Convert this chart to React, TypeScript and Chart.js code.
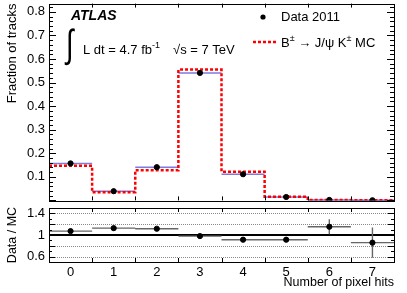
import React, { useEffect, useRef } from "react";
import { Chart, registerables } from "chart.js";
Chart.register(...registerables);

const FONT = "'Liberation Sans', Arial, Helvetica, sans-serif";

// Number of pixel hits (bin centres)
const categories = [0, 1, 2, 3, 4, 5, 6, 7];
// Fraction of tracks, data 2011
const dataFraction = [0.157, 0.039, 0.141, 0.541, 0.111, 0.0145, 0.002, 0.0007];
// Fraction of tracks, B± → J/ψ K± MC
const mcFraction = [0.147, 0.035, 0.128, 0.555, 0.122, 0.016, 0.0017, 0.0008];
// Data / MC ratio and its uncertainty
const ratioValues = [1.072, 1.127, 1.116, 0.98, 0.913, 0.913, 1.153, 0.858];
const ratioErrors = [0.01, 0.012, 0.01, 0.004, 0.01, 0.03, 0.14, 0.28];
// Tick labels
const mainYTicks = [0.1, 0.2, 0.3, 0.4, 0.5, 0.6, 0.7, 0.8];
const ratioYTicks = [0.6, 0.8, 1, 1.2, 1.4];
const ratioGridLines = [0.6, 0.8, 1.2, 1.4];

const W = 407;
const MAIN_H = 204;
const RATIO_TOP = 204;
const RATIO_H = 89;

function px(v: number) {
  return Math.round(v) + 0.5;
}

function noPad(s: any) {
  s.paddingTop = 0;
  s.paddingBottom = 0;
  s.paddingLeft = 0;
  s.paddingRight = 0;
}

function drawFrameAndTicks(
  chart: any,
  yFrom: number,
  yTo: number,
  majorStep: number,
  minorStep: number,
  majorLen: number,
  minorLen: number,
  xTickLen: number
) {
  const { ctx, chartArea } = chart;
  const x = chart.scales.x;
  const y = chart.scales.y;
  const { left, right, top, bottom } = chartArea;
  ctx.save();
  ctx.strokeStyle = "#000";
  ctx.lineWidth = 1;
  ctx.setLineDash([]);
  ctx.beginPath();
  const nMinor = Math.round((yTo - yFrom) / minorStep);
  for (let k = 0; k <= nMinor; k++) {
    const v = yFrom + k * minorStep;
    if (v < y.min - 1e-9 || v > y.max + 1e-9) continue;
    const isMajor = Math.abs(v / majorStep - Math.round(v / majorStep)) < 1e-6;
    const len = isMajor ? majorLen : minorLen;
    const yy = px(y.getPixelForValue(v));
    ctx.moveTo(left, yy);
    ctx.lineTo(left + len, yy);
    ctx.moveTo(right, yy);
    ctx.lineTo(right - len, yy);
  }
  for (let i = 0; i < categories.length - 1; i++) {
    const xx = px(x.getPixelForValue(categories[i] + 0.5));
    ctx.moveTo(xx, bottom);
    ctx.lineTo(xx, bottom - xTickLen);
    ctx.moveTo(xx, top);
    ctx.lineTo(xx, top + xTickLen);
  }
  ctx.stroke();
  ctx.strokeRect(px(left), px(top), Math.round(right - left), Math.round(bottom - top));
  ctx.restore();
}

const mainPlugin = {
  id: "mainDecor",
  beforeDatasetsDraw(chart: any) {
    const { ctx } = chart;
    const x = chart.scales.x;
    const y = chart.scales.y;
    ctx.save();
    ctx.strokeStyle = "#7b7be0";
    ctx.lineWidth = 1.5;
    ctx.beginPath();
    categories.forEach((c, i) => {
      const yy = y.getPixelForValue(dataFraction[i]);
      ctx.moveTo(x.getPixelForValue(c - 0.5), yy);
      ctx.lineTo(x.getPixelForValue(c + 0.5), yy);
    });
    ctx.stroke();
    ctx.restore();
  },
  afterDraw(chart: any) {
    drawFrameAndTicks(chart, 0, 0.84, 0.1, 0.02, 7, 4, 4);
    const { ctx } = chart;
    ctx.save();
    ctx.fillStyle = "#000";
    ctx.textAlign = "left";
    ctx.textBaseline = "alphabetic";
    ctx.font = `bold italic 14px ${FONT}`;
    ctx.fillText("ATLAS", 71, 19.5);
    // integral sign, tall and narrow
    ctx.save();
    ctx.translate(66, 57);
    ctx.scale(0.7, 1);
    ctx.font = `39px ${FONT}`;
    ctx.fillText("\u222B", 0, 0);
    ctx.restore();
    ctx.font = `13px ${FONT}`;
    const lumi = "L dt = 4.7 fb";
    ctx.fillText(lumi, 83, 54);
    const lw = ctx.measureText(lumi).width;
    ctx.font = `9px ${FONT}`;
    ctx.fillText("-1", 83 + lw, 48);
    ctx.font = `13px ${FONT}`;
    ctx.fillText("\u221As = 7 TeV", 173, 54);

    // legend
    ctx.beginPath();
    ctx.arc(263, 17, 2.6, 0, Math.PI * 2);
    ctx.fill();
    ctx.textBaseline = "middle";
    ctx.fillText("Data 2011", 281, 17.5);
    ctx.strokeStyle = "#ff0000";
    ctx.lineWidth = 2.5;
    ctx.setLineDash([3, 2]);
    ctx.beginPath();
    ctx.moveTo(253, 42);
    ctx.lineTo(276, 42);
    ctx.stroke();
    ctx.setLineDash([]);
    let cx = 281;
    const base = 43.5;
    const part = (t: string, size: number, dy: number) => {
      ctx.font = `${size}px ${FONT}`;
      ctx.fillText(t, cx, base + dy);
      cx += ctx.measureText(t).width;
    };
    part("B", 13, 0);
    part("\u00B1", 9, -5);
    part(" \u2192 J/\u03C8 K", 13, 0);
    part("\u00B1", 9, -5);
    part(" MC", 13, 0);
    ctx.restore();
  },
};

const ratioPlugin = {
  id: "ratioDecor",
  beforeDatasetsDraw(chart: any) {
    const { ctx, chartArea } = chart;
    const x = chart.scales.x;
    const y = chart.scales.y;
    ctx.save();
    ctx.beginPath();
    ctx.rect(chartArea.left, chartArea.top, chartArea.right - chartArea.left, chartArea.bottom - chartArea.top);
    ctx.clip();
    ctx.strokeStyle = "#888";
    ctx.lineWidth = 1;
    ctx.setLineDash([1, 1]);
    ctx.beginPath();
    ratioGridLines.forEach((v) => {
      const yy = px(y.getPixelForValue(v));
      ctx.moveTo(chartArea.left, yy);
      ctx.lineTo(chartArea.right, yy);
    });
    ctx.stroke();
    ctx.setLineDash([]);
    ctx.strokeStyle = "#000";
    ctx.lineWidth = 2;
    ctx.beginPath();
    const y1 = Math.round(y.getPixelForValue(1));
    ctx.moveTo(chartArea.left, y1);
    ctx.lineTo(chartArea.right, y1);
    ctx.stroke();
    ctx.strokeStyle = "#666";
    ctx.lineWidth = 1.4;
    ctx.beginPath();
    categories.forEach((c, i) => {
      const yy = y.getPixelForValue(ratioValues[i]);
      ctx.moveTo(x.getPixelForValue(c - 0.5), yy);
      ctx.lineTo(x.getPixelForValue(c + 0.5), yy);
      const xx = x.getPixelForValue(c);
      ctx.moveTo(xx, y.getPixelForValue(ratioValues[i] - ratioErrors[i]));
      ctx.lineTo(xx, y.getPixelForValue(ratioValues[i] + ratioErrors[i]));
    });
    ctx.stroke();
    ctx.restore();
  },
  afterDraw(chart: any) {
    drawFrameAndTicks(chart, 0.5, 1.5, 0.2, 0.1, 6, 3, 4);
  },
};

export default function App() {
  const mainRef = useRef<HTMLCanvasElement>(null);
  const ratioRef = useRef<HTMLCanvasElement>(null);

  useEffect(() => {
    const edges = categories.map((c) => c - 0.5).concat([categories[categories.length - 1] + 0.5]);
    const mcStep = edges.map((e, i) => ({ x: e, y: mcFraction[Math.min(i, mcFraction.length - 1)] }));

    const main = new Chart(mainRef.current!, {
      type: "scatter",
      data: {
        datasets: [
          {
            label: "Data 2011",
            data: categories.map((c, i) => ({ x: c, y: dataFraction[i] })),
            backgroundColor: "#000",
            borderColor: "#000",
            pointRadius: 2.6,
            pointHoverRadius: 2.6,
            showLine: false,
          },
          {
            type: "line",
            label: "MC",
            data: mcStep,
            borderColor: "#ff0000",
            borderWidth: 2.5,
            borderDash: [3, 2],
            stepped: true,
            pointRadius: 0,
            fill: false,
            showLine: true,
          } as any,
        ],
      },
      options: {
        animation: false,
        responsive: false,
        events: [],
        layout: { padding: { top: 1, right: 13, bottom: 1, left: 0 } },
        plugins: { legend: { display: false }, tooltip: { enabled: false } },
        scales: {
          x: { type: "linear", min: -0.5, max: 7.5, display: false, afterFit: noPad },
          y: {
            type: "linear",
            min: 0,
            max: 0.835,
            afterBuildTicks: (s: any) => {
              s.ticks = mainYTicks.map((v) => ({ value: v }));
            },
            afterFit: (s: any) => {
              s.width = 49;
              noPad(s);
            },
            grid: { display: false, drawTicks: false },
            border: { display: false },
            ticks: {
              color: "#000",
              padding: 4,
              font: { family: FONT, size: 13 },
              callback: (v: any) => Number(v).toFixed(1),
            },
            title: {
              display: true,
              text: "Fraction of tracks",
              align: "end",
              color: "#000",
              font: { family: FONT, size: 13 },
              padding: { top: 5, bottom: 4 },
            },
          },
        },
      },
      plugins: [mainPlugin],
    });

    const ratio = new Chart(ratioRef.current!, {
      type: "scatter",
      data: {
        datasets: [
          {
            label: "Data / MC",
            data: categories.map((c, i) => ({ x: c, y: ratioValues[i] })),
            backgroundColor: "#000",
            borderColor: "#000",
            pointRadius: 2.6,
            pointHoverRadius: 2.6,
            showLine: false,
          },
        ],
      },
      options: {
        animation: false,
        responsive: false,
        events: [],
        layout: { padding: { top: 4, right: 13, bottom: 0, left: 0 } },
        plugins: { legend: { display: false }, tooltip: { enabled: false } },
        scales: {
          x: {
            type: "linear",
            min: -0.5,
            max: 7.5,
            afterBuildTicks: (s: any) => {
              s.ticks = categories.map((v) => ({ value: v }));
            },
            afterFit: (s: any) => {
              s.height = 31;
              noPad(s);
            },
            grid: { display: false, drawTicks: false },
            border: { display: false },
            ticks: {
              color: "#000",
              padding: 3,
              maxRotation: 0,
              font: { family: FONT, size: 13 },
              callback: (v: any) => String(v),
            },
            title: {
              display: true,
              text: "Number of pixel hits",
              align: "end",
              color: "#000",
              font: { family: FONT, size: 12.5 },
              padding: { top: 0, bottom: 3 },
            },
          },
          y: {
            type: "linear",
            min: 0.5,
            max: 1.5,
            afterBuildTicks: (s: any) => {
              s.ticks = ratioYTicks.map((v) => ({ value: v }));
            },
            afterFit: (s: any) => {
              s.width = 49;
              noPad(s);
            },
            grid: { display: false, drawTicks: false },
            border: { display: false },
            ticks: {
              color: "#000",
              padding: 4,
              font: { family: FONT, size: 13 },
              callback: (v: any) => String(v),
            },
            title: {
              display: true,
              text: "Data / MC",
              align: "center",
              color: "#000",
              font: { family: FONT, size: 12.5 },
              padding: { top: 5, bottom: 4 },
            },
          },
        },
      },
      plugins: [ratioPlugin],
    });

    return () => {
      main.destroy();
      ratio.destroy();
    };
  }, []);

  return (
    <div style={{ position: "absolute", left: 0, top: 0, width: W, height: MAIN_H + RATIO_H, background: "#fff" }}>
      <canvas ref={mainRef} width={W} height={MAIN_H} style={{ position: "absolute", left: 0, top: 0 }} />
      <canvas ref={ratioRef} width={W} height={RATIO_H} style={{ position: "absolute", left: 0, top: RATIO_TOP }} />
    </div>
  );
}
